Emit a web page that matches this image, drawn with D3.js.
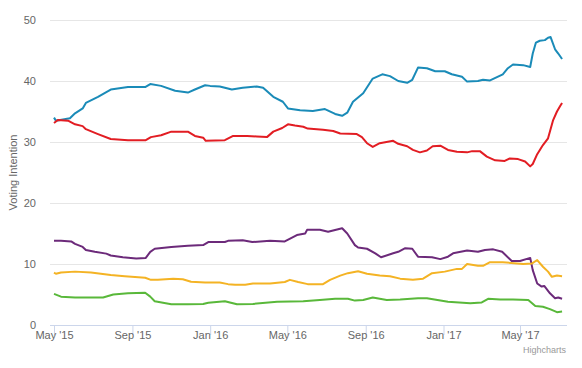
<!DOCTYPE html>
<html>
<head>
<meta charset="utf-8">
<script src="https://cdn.jsdelivr.net/npm/d3@7"></script>
<style>
  body { margin: 0; background: #fff; }
  svg { display: block; font-family: "Liberation Sans", Arial, sans-serif; }
</style>
</head>
<body>
<svg id="chart" width="582" height="368"></svg>
<script>
// poll series, [date, %]
const con = [['2015-05-01',34.0],['2015-05-04',33.5],['2015-05-26',33.9],['2015-06-03',34.7],['2015-06-15',35.5],['2015-06-20',36.4],['2015-07-09',37.4],['2015-07-29',38.6],['2015-08-25',39.0],['2015-09-21',39.0],['2015-09-29',39.5],['2015-10-16',39.2],['2015-11-07',38.4],['2015-11-27',38.1],['2015-12-08',38.6],['2015-12-24',39.3],['2016-01-01',39.2],['2016-01-16',39.1],['2016-02-04',38.6],['2016-02-21',38.9],['2016-03-14',39.1],['2016-03-24',38.9],['2016-04-09',37.4],['2016-04-24',36.6],['2016-05-02',35.5],['2016-05-21',35.2],['2016-06-10',35.1],['2016-06-29',35.4],['2016-07-15',34.6],['2016-07-26',34.3],['2016-08-03',34.8],['2016-08-12',36.6],['2016-08-28',38.0],['2016-09-12',40.4],['2016-09-27',41.1],['2016-10-09',40.8],['2016-10-22',40.0],['2016-11-05',39.7],['2016-11-13',40.2],['2016-11-22',42.2],['2016-12-06',42.1],['2016-12-19',41.6],['2017-01-03',41.6],['2017-01-14',41.1],['2017-01-30',40.7],['2017-02-07',39.9],['2017-02-24',40.0],['2017-03-04',40.2],['2017-03-15',40.1],['2017-04-04',41.1],['2017-04-12',42.1],['2017-04-20',42.7],['2017-05-06',42.6],['2017-05-17',42.3],['2017-05-21',44.5],['2017-05-26',46.3],['2017-06-01',46.6],['2017-06-09',46.7],['2017-06-14',47.1],['2017-06-18',47.2],['2017-06-25',45.2],['2017-06-30',44.5],['2017-07-06',43.6]];

const lab = [['2015-05-01',33.1],['2015-05-07',33.6],['2015-05-23',33.5],['2015-06-03',32.9],['2015-06-15',32.6],['2015-06-20',32.1],['2015-07-09',31.3],['2015-07-29',30.5],['2015-08-25',30.3],['2015-09-22',30.3],['2015-09-30',30.8],['2015-10-16',31.1],['2015-11-01',31.7],['2015-11-27',31.7],['2015-12-08',31.0],['2015-12-21',30.7],['2015-12-25',30.2],['2016-01-24',30.3],['2016-02-06',31.0],['2016-02-28',31.0],['2016-03-14',30.9],['2016-03-30',30.8],['2016-04-09',31.7],['2016-04-23',32.3],['2016-05-02',32.9],['2016-05-13',32.7],['2016-05-26',32.5],['2016-06-02',32.2],['2016-06-26',32.0],['2016-07-12',31.8],['2016-07-23',31.4],['2016-08-18',31.3],['2016-08-26',30.8],['2016-09-03',29.8],['2016-09-12',29.2],['2016-09-23',29.8],['2016-10-14',30.2],['2016-10-22',29.7],['2016-11-05',29.3],['2016-11-14',28.7],['2016-11-25',28.3],['2016-12-06',28.6],['2016-12-15',29.3],['2016-12-27',29.4],['2017-01-08',28.7],['2017-01-22',28.4],['2017-02-07',28.3],['2017-02-15',28.5],['2017-02-27',28.5],['2017-03-10',27.6],['2017-03-23',27.0],['2017-04-07',26.9],['2017-04-15',27.3],['2017-04-28',27.2],['2017-05-09',26.8],['2017-05-17',26.0],['2017-05-21',26.4],['2017-05-28',28.0],['2017-06-06',29.5],['2017-06-14',30.6],['2017-06-22',33.6],['2017-06-28',35.0],['2017-07-03',35.9],['2017-07-06',36.4]];

const ukip = [['2015-05-01',13.8],['2015-05-12',13.8],['2015-05-28',13.7],['2015-06-03',13.3],['2015-06-15',12.8],['2015-06-20',12.3],['2015-07-04',12.0],['2015-07-22',11.7],['2015-07-29',11.4],['2015-08-17',11.1],['2015-09-07',10.9],['2015-09-22',11.0],['2015-09-29',12.0],['2015-10-06',12.5],['2015-11-01',12.8],['2015-11-27',13.0],['2015-12-21',13.1],['2015-12-29',13.6],['2016-01-24',13.6],['2016-01-29',13.8],['2016-02-21',13.9],['2016-03-07',13.6],['2016-04-04',13.8],['2016-04-27',13.7],['2016-05-16',14.75],['2016-05-29',15.0],['2016-06-01',15.6],['2016-06-21',15.6],['2016-07-04',15.3],['2016-07-26',15.85],['2016-08-03',15.0],['2016-08-15',13.1],['2016-08-20',12.7],['2016-09-03',12.5],['2016-09-16',11.75],['2016-09-25',11.1],['2016-10-14',11.75],['2016-10-22',12.0],['2016-11-02',12.6],['2016-11-13',12.5],['2016-11-22',11.2],['2016-12-14',11.1],['2016-12-27',10.8],['2017-01-08',11.2],['2017-01-16',11.75],['2017-02-07',12.2],['2017-02-24',12.0],['2017-03-07',12.3],['2017-03-20',12.4],['2017-04-03',12.0],['2017-04-18',10.5],['2017-05-01',10.5],['2017-05-17',11.0],['2017-05-21',9.0],['2017-05-28',6.8],['2017-06-04',6.3],['2017-06-08',6.4],['2017-06-17',5.2],['2017-06-25',4.4],['2017-06-30',4.5],['2017-07-06',4.3]];

const libdem = [['2015-05-01',8.6],['2015-05-04',8.4],['2015-05-12',8.6],['2015-06-03',8.75],['2015-06-28',8.6],['2015-07-29',8.2],['2015-08-20',8.0],['2015-09-21',7.75],['2015-09-30',7.4],['2015-10-11',7.4],['2015-11-04',7.6],['2015-11-19',7.5],['2015-12-02',7.1],['2015-12-24',6.95],['2016-01-16',6.95],['2016-01-29',6.7],['2016-02-09',6.6],['2016-02-25',6.6],['2016-03-08',6.8],['2016-04-04',6.8],['2016-04-27',7.05],['2016-05-05',7.4],['2016-05-18',7.05],['2016-06-02',6.7],['2016-06-26',6.7],['2016-07-07',7.4],['2016-07-23',8.1],['2016-08-04',8.5],['2016-08-20',8.8],['2016-09-03',8.4],['2016-09-23',8.1],['2016-10-09',8.0],['2016-10-25',7.6],['2016-11-14',7.4],['2016-11-30',7.6],['2016-12-14',8.5],['2017-01-03',8.75],['2017-01-22',9.2],['2017-01-30',9.2],['2017-02-07',10.0],['2017-02-24',9.7],['2017-03-04',9.7],['2017-03-15',10.3],['2017-04-04',10.3],['2017-05-06',10.0],['2017-05-20',10.1],['2017-05-28',10.65],['2017-06-06',9.55],['2017-06-14',8.75],['2017-06-20',7.9],['2017-06-28',8.1],['2017-07-06',8.0]];

const green = [['2015-05-01',5.1],['2015-05-12',4.65],['2015-06-03',4.5],['2015-07-17',4.5],['2015-08-02',5.0],['2015-08-25',5.2],['2015-09-21',5.3],['2015-09-29',4.65],['2015-10-06',3.9],['2015-11-01',3.4],['2015-11-27',3.4],['2015-12-21',3.45],['2015-12-29',3.65],['2016-01-24',3.9],['2016-02-12',3.4],['2016-03-08',3.45],['2016-04-15',3.8],['2016-05-26',3.9],['2016-06-21',4.1],['2016-07-15',4.3],['2016-08-04',4.3],['2016-08-15',4.0],['2016-08-28',4.1],['2016-09-12',4.5],['2016-10-04',4.1],['2016-10-25',4.2],['2016-11-22',4.4],['2016-12-06',4.4],['2017-01-08',3.8],['2017-02-12',3.55],['2017-03-02',3.7],['2017-03-12',4.3],['2017-03-31',4.2],['2017-04-20',4.2],['2017-05-14',4.1],['2017-05-25',3.1],['2017-06-06',3.0],['2017-06-17',2.6],['2017-06-28',2.1],['2017-07-06',2.2]];

const yTicks = [0, 10, 20, 30, 40, 50];

const series = [
    { name: 'Conservative', values: con, color: '#1a8bb8' },
    { name: 'Labour', values: lab, color: '#e21d23' },
    { name: 'UKIP', values: ukip, color: '#6c2a7a' },
    { name: 'Liberal Democrat', values: libdem, color: '#f4b324' },
    { name: 'Green', values: green, color: '#59b83a' },
];

const parse = d3.timeParse('%Y-%m-%d');
const svg = d3.select('#chart');

const plot = { left: 50, right: 567, top: 20, bottom: 325 };

const x = d3.scaleTime()
    .domain([parse('2015-05-01'), parse('2017-05-01')])
    .range([54, 520]);
const y = d3.scaleLinear().domain([0, 50]).range([plot.bottom, plot.top]);

// gridlines
svg.append('g')
    .selectAll('line')
    .data(yTicks.filter(t => t > 0))
    .enter().append('line')
    .attr('x1', plot.left).attr('x2', plot.right)
    .attr('y1', d => y(d)).attr('y2', d => y(d))
    .attr('stroke', '#e6e6e6').attr('stroke-width', 1)
    .attr('shape-rendering', 'crispEdges');

// y labels
svg.append('g')
    .selectAll('text')
    .data(yTicks)
    .enter().append('text')
    .attr('x', 36).attr('y', d => y(d) + 4)
    .attr('text-anchor', 'end')
    .attr('font-size', 11).attr('fill', '#666')
    .text(d => d);

svg.append('text')
    .attr('transform', `translate(17, ${(plot.top + plot.bottom) / 2}) rotate(-90)`)
    .attr('text-anchor', 'middle')
    .attr('font-size', 11).attr('fill', '#666')
    .text('Voting Intention');

// x axis
const xAxis = d3.axisBottom(x)
    .ticks(d3.timeMonth.every(4))
    .tickFormat(d3.timeFormat("%b '%y"))
    .tickSize(10)
    .tickSizeOuter(0);

const gx = svg.append('g')
    .attr('transform', `translate(0, ${plot.bottom})`)
    .call(xAxis);
gx.select('.domain').remove();
gx.append('line')
    .attr('x1', plot.left).attr('x2', plot.right)
    .attr('y1', 0.5).attr('y2', 0.5)
    .attr('stroke', '#ccd6eb');
gx.selectAll('.tick line').attr('stroke', '#ccd6eb');
gx.selectAll('.tick text')
    .attr('font-size', 11).attr('fill', '#666')
    .attr('font-family', '"Liberation Sans", Arial, sans-serif')
    .attr('dy', '0.55em').attr('y', 8);

// lines
const line = d3.line()
    .x(d => x(parse(d[0])))
    .y(d => y(d[1]));

svg.append('g')
    .selectAll('path')
    .data(series)
    .enter().append('path')
    .attr('fill', 'none')
    .attr('stroke', d => d.color)
    .attr('stroke-width', 2)
    .attr('stroke-linejoin', 'round')
    .attr('d', d => line(d.values));

svg.append('text')
    .attr('x', 566).attr('y', 353)
    .attr('text-anchor', 'end')
    .attr('font-size', 9).attr('fill', '#999')
    .text('Highcharts');
</script>
</body>
</html>
